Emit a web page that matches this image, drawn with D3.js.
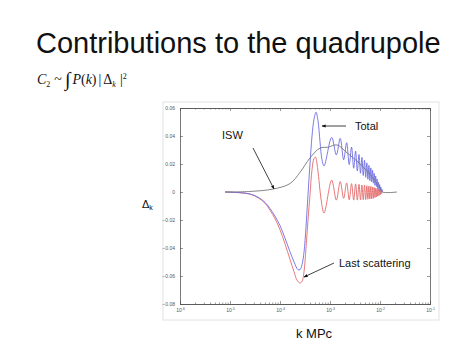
<!DOCTYPE html>
<html>
<head>
<meta charset="utf-8">
<script src="https://cdn.jsdelivr.net/npm/d3@7"></script>
<style>
  body { margin: 0; background: #fff; }
  svg { display: block; }
</style>
</head>
<body>
<script>
// x: wavenumber k (log), y: Delta_k
const kTicks = [1e-6, 1e-5, 1e-4, 1e-3, 1e-2, 1e-1];
const kTickExp = ["-6", "-5", "-4", "-3", "-2", "-1"];
const yTicks = [0.06, 0.04, 0.02, 0, -0.02, -0.04, -0.06, -0.08];

// ISW (gray)
const iswK = [7.94e-6, 2.51e-5, 7.24e-5, 1.58e-4, 2.51e-4, 3.98e-4, 6.31e-4, 9.12e-4, 1.38e-3, 2.19e-3, 4.57e-3, 8.71e-3, 1.02e-2, 1.1e-2, 2.19e-2];
const iswVal = [0, 0.0004, 0.0021, 0.006, 0.014, 0.0243, 0.0314, 0.032, 0.0336, 0.028, 0.018, 0.006, 0.002, 0, 0];

// Last scattering (red)
const lsK = [7.94e-6, 1.58e-5, 2.51e-5, 3.63e-5, 5.01e-5, 6.31e-5, 7.94e-5, 1e-4, 1.26e-4, 1.58e-4, 1.91e-4, 2.19e-4, 2.51e-4, 2.75e-4, 3.02e-4, 3.31e-4, 3.63e-4, 3.98e-4, 4.37e-4, 4.79e-4, 5.13e-4, 5.5e-4, 6.03e-4, 6.61e-4, 7.6e-4,
  1.08e-3, 1.34e-3, 1.6e-3, 1.875e-3, 2.15e-3, 2.425e-3, 2.7e-3, 2.975e-3, 3.25e-3, 3.525e-3, 3.8e-3, 4.075e-3, 4.35e-3, 4.625e-3, 4.9e-3, 5.175e-3, 5.45e-3, 5.725e-3, 6.0e-3, 6.275e-3, 6.55e-3, 6.825e-3, 7.1e-3, 7.375e-3, 7.65e-3, 7.925e-3, 8.2e-3, 8.475e-3, 8.75e-3, 9.025e-3, 9.3e-3, 9.575e-3, 9.85e-3, 1.0125e-2, 1.04e-2, 1.0675e-2, 1.095e-2, 1.12e-2];
const lsVal = [0, -0.0005, -0.0015, -0.004, -0.008, -0.013, -0.019, -0.027, -0.037, -0.048, -0.057, -0.063, -0.065, -0.064, -0.057, -0.040, -0.020, -0.002, 0.016, 0.024, 0.025, 0.02, 0.008, -0.005, -0.015,
  0.0085, -0.0058, 0.0075, -0.0045, 0.0065, -0.0055, 0.006, -0.0058, 0.0058, -0.0058, 0.0055, -0.0056, 0.005, -0.0055, 0.0048, -0.0054, 0.0045, -0.0052, 0.0042, -0.005, 0.004, -0.0048, 0.0036, -0.0045, 0.0032, -0.004, 0.0028, -0.0035, 0.0024, -0.003, 0.002, -0.0025, 0.0016, -0.002, 0.0012, -0.0012, 0.0006, 0];

// Total (blue)
const totK = [7.94e-6, 1.58e-5, 2.51e-5, 3.63e-5, 5.01e-5, 6.31e-5, 7.94e-5, 1e-4, 1.26e-4, 1.58e-4, 1.91e-4, 2.29e-4, 2.51e-4, 2.75e-4, 3.02e-4, 3.31e-4, 3.63e-4, 3.98e-4, 4.37e-4, 4.79e-4, 5.25e-4, 5.75e-4, 6.31e-4, 6.92e-4, 7.6e-4,
  1.08e-3, 1.34e-3, 1.6e-3, 1.875e-3, 2.15e-3, 2.425e-3, 2.7e-3, 2.975e-3, 3.25e-3, 3.525e-3, 3.8e-3, 4.075e-3, 4.35e-3, 4.625e-3, 4.9e-3, 5.175e-3, 5.45e-3, 5.725e-3, 6.0e-3, 6.275e-3, 6.55e-3, 6.825e-3, 7.1e-3, 7.375e-3, 7.65e-3, 7.925e-3, 8.2e-3, 8.475e-3, 8.75e-3, 9.025e-3, 9.3e-3, 9.575e-3, 9.85e-3, 1.0125e-2, 1.04e-2, 1.0675e-2, 1.095e-2, 1.12e-2];
const totVal = [0, -0.0005, -0.0014, -0.0037, -0.0074, -0.0118, -0.0172, -0.024, -0.033, -0.0425, -0.050, -0.0555, -0.0555, -0.052, -0.043, -0.025, -0.002, 0.02, 0.04, 0.052, 0.057, 0.051, 0.036, 0.023, 0.0186,
  0.039, 0.0265, 0.0383, 0.023, 0.0352, 0.0196, 0.0321, 0.017, 0.0292, 0.015, 0.0268, 0.0134, 0.0247, 0.0118, 0.0227, 0.0105, 0.0208, 0.0091, 0.019, 0.0081, 0.0172, 0.0072, 0.0155, 0.0063, 0.0132, 0.0048, 0.0114, 0.0039, 0.0093, 0.0024, 0.0071, 0.0017, 0.0053, 0.001, 0.0035, 0.0006, 0.0019, 0];

const W = 474, H = 355;
const plot = {left: 180, right: 430, top: 108, bottom: 304};

const svg = d3.select("body").append("svg")
  .attr("width", W)
  .attr("height", H)
  .style("font-family", "'Liberation Sans', Arial, sans-serif");

// title
svg.append("text")
  .attr("x", 36).attr("y", 53)
  .attr("font-size", 29)
  .attr("fill", "#111")
  .text("Contributions to the quadrupole");

// formula C2 ~ ∫ P(k) |Δk|^2
const f = svg.append("text")
  .attr("x", 37).attr("y", 84)
  .attr("font-family", "'Liberation Serif', 'Times New Roman', serif")
  .attr("font-size", 14)
  .attr("fill", "#111");
f.append("tspan").attr("font-style", "italic").text("C");
f.append("tspan").attr("font-size", 8).attr("dy", 3).text("2");
f.append("tspan").attr("dy", -3).attr("dx", 4).text("~");
f.append("tspan").attr("dx", 3).attr("font-size", 20).attr("dy", 2).text("\u222B");
f.append("tspan").attr("dx", 2).attr("dy", -2).attr("font-style", "italic").text("P");
f.append("tspan").text("(");
f.append("tspan").attr("font-style", "italic").text("k");
f.append("tspan").text(")");
f.append("tspan").attr("dx", 2).text("|");
f.append("tspan").attr("dx", 2).text("\u0394");
f.append("tspan").attr("font-size", 8).attr("dy", 3).attr("font-style", "italic").text("k");
f.append("tspan").attr("dy", -3).attr("dx", 4).text("|");
f.append("tspan").attr("font-size", 8).attr("dy", -5).text("2");

// outer light frame
svg.append("rect")
  .attr("x", 163).attr("y", 102)
  .attr("width", 276).attr("height", 218)
  .attr("fill", "none")
  .attr("stroke", "#e2e2e2")
  .attr("stroke-width", 1);

const x = d3.scaleLog().domain([1e-6, 1e-1]).range([plot.left, plot.right]);
const y = d3.scaleLinear().domain([-0.08, 0.06]).range([plot.bottom, plot.top]);

const minorK = [];
kTicks.slice(0, -1).forEach(d => { for (let m = 2; m <= 9; m++) minorK.push(d * m); });

const axisColor = "#555";

function styleAxis(g) {
  g.select(".domain").attr("stroke", axisColor).attr("stroke-width", 0.8);
  g.selectAll(".tick line").attr("stroke", axisColor).attr("stroke-width", 0.6);
  g.selectAll(".tick text").attr("fill", "#555").attr("font-size", 5);
}

// bottom axis
const xb = svg.append("g").attr("transform", `translate(0,${plot.bottom})`)
  .call(d3.axisBottom(x).tickValues(kTicks).tickSize(-3).tickPadding(4).tickFormat(""))
  .call(styleAxis);
xb.selectAll(".tick").append("text")
  .attr("y", 8).attr("text-anchor", "middle")
  .attr("fill", "#555").attr("font-size", 5)
  .each(function(d, i) {
    const t = d3.select(this);
    t.append("tspan").text("10");
    t.append("tspan").attr("font-size", 3.5).attr("dy", -2).text(kTickExp[i]);
  });
svg.append("g").attr("transform", `translate(0,${plot.bottom})`)
  .call(d3.axisBottom(x).tickValues(minorK).tickSize(-1.5).tickFormat(""))
  .call(styleAxis);

// top axis
svg.append("g").attr("transform", `translate(0,${plot.top})`)
  .call(d3.axisTop(x).tickValues(kTicks).tickSize(-3).tickFormat(""))
  .call(styleAxis);
svg.append("g").attr("transform", `translate(0,${plot.top})`)
  .call(d3.axisTop(x).tickValues(minorK).tickSize(-1.5).tickFormat(""))
  .call(styleAxis);

// left / right axes
svg.append("g").attr("transform", `translate(${plot.left},0)`)
  .call(d3.axisLeft(y).tickValues(yTicks).tickSize(-3).tickPadding(5)
    .tickFormat(d => d === 0 ? "0" : d3.format(".2f")(d)))
  .call(styleAxis);
svg.append("g").attr("transform", `translate(${plot.right},0)`)
  .call(d3.axisRight(y).tickValues(yTicks).tickSize(-3).tickFormat(""))
  .call(styleAxis);

// curves
const line = d3.line()
  .x(d => x(d[0]))
  .y(d => y(d[1]))
  .curve(d3.curveCatmullRom.alpha(0.5));

const series = [
  {k: lsK, v: lsVal, color: "#e46a6a"},
  {k: totK, v: totVal, color: "#6d6de4"},
  {k: iswK, v: iswVal, color: "#777"}
];

svg.append("g").selectAll("path").data(series).join("path")
  .attr("d", s => line(s.k.map((k, i) => [k, s.v[i]])))
  .attr("fill", "none")
  .attr("stroke", s => s.color)
  .attr("stroke-width", 0.9);

// annotations
svg.append("defs").append("marker")
  .attr("id", "arr")
  .attr("viewBox", "0 0 10 10")
  .attr("refX", 9).attr("refY", 5)
  .attr("markerWidth", 5).attr("markerHeight", 5)
  .attr("orient", "auto")
  .append("path").attr("d", "M0,1 L10,5 L0,9 Z").attr("fill", "#111");

const notes = [
  {text: "ISW", tx: 222, ty: 139, x1: 253, y1: 148, x2: 274, y2: 189},
  {text: "Total", tx: 355, ty: 130, x1: 346, y1: 126, x2: 322, y2: 126},
  {text: "Last scattering", tx: 339, ty: 267, x1: 334, y1: 263, x2: 304, y2: 277}
];
const ng = svg.append("g");
ng.selectAll("line").data(notes).join("line")
  .attr("x1", d => d.x1).attr("y1", d => d.y1)
  .attr("x2", d => d.x2).attr("y2", d => d.y2)
  .attr("stroke", "#111").attr("stroke-width", 0.8)
  .attr("marker-end", "url(#arr)");
ng.selectAll("text").data(notes).join("text")
  .attr("x", d => d.tx).attr("y", d => d.ty)
  .attr("font-size", 11)
  .attr("fill", "#111")
  .text(d => d.text);

// axis labels
const yl = svg.append("text")
  .attr("x", 142).attr("y", 208)
  .attr("font-size", 11).attr("fill", "#111");
yl.append("tspan").text("\u0394");
yl.append("tspan").attr("font-size", 7).attr("dy", 2).text("k");

svg.append("text")
  .attr("x", 314).attr("y", 338)
  .attr("text-anchor", "middle")
  .attr("font-size", 13).attr("fill", "#111")
  .text("k MPc");
</script>
</body>
</html>
